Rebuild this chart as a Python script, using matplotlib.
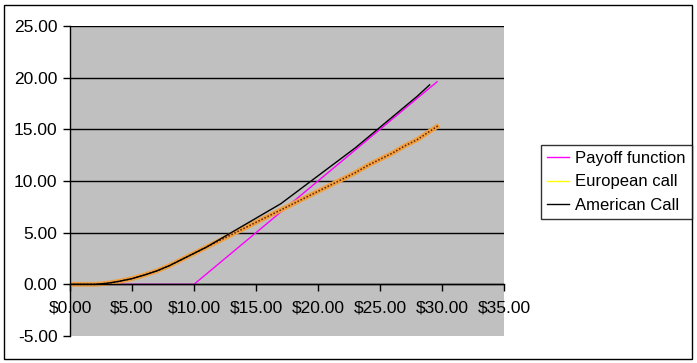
import matplotlib.pyplot as plt
from matplotlib.patches import Rectangle
from matplotlib.lines import Line2D

plt.rcParams['font.family'] = ['Liberation Sans', 'DejaVu Sans']
plt.rcParams['font.size'] = 12

# data
payoff_s = [0, 10, 29.6]
payoff_v = [0, 0, 19.6]

euro_s = [0, 1, 2, 3, 4, 5, 6, 7, 8, 9, 10, 11, 12, 13, 14, 15, 16, 17, 18, 19,
          20, 21, 22, 23, 24, 25, 26, 27, 28, 29, 29.75]
euro_v = [0.0, 0.0, 0.0, 0.1, 0.3, 0.55, 0.9, 1.3, 1.8, 2.4, 3.0, 3.6, 4.2, 4.8,
          5.4, 6.0, 6.6, 7.2, 7.8, 8.4, 9.0, 9.6, 10.2, 10.8, 11.5, 12.1, 12.7,
          13.4, 14.0, 14.8, 15.4]

amer_s = [0, 1, 2, 3, 4, 5, 6, 7, 8, 9, 10, 11, 12, 13, 14, 15, 16, 17, 18, 19,
          20, 21, 22, 23, 24, 25, 26, 27, 28, 29]
amer_v = [0.0, 0.0, 0.0, 0.1, 0.3, 0.55, 0.9, 1.3, 1.8, 2.4, 3.0, 3.6, 4.3, 5.0,
          5.7, 6.4, 7.1, 7.8, 8.7, 9.6, 10.5, 11.4, 12.3, 13.2, 14.2, 15.2, 16.2,
          17.2, 18.2, 19.3]

x_ticks = [0, 5, 10, 15, 20, 25, 30, 35]
y_ticks = [-5, 0, 5, 10, 15, 20, 25]

W, H = 697, 363
fig = plt.figure(figsize=(W / 100, H / 100), dpi=100)
ax = fig.add_axes([70 / W, (H - 336) / H, (504 - 70) / W, (336 - 26) / H])
ax.set_facecolor('#c0c0c0')

ax.plot(payoff_s, payoff_v, color='#ff00ff', lw=1)
ax.plot(euro_s, euro_v, color='#f0a040', lw=3.5, solid_capstyle='butt')
ax.plot(euro_s, euro_v, color='#5a2010', lw=1.1, ls=(0, (1, 1.2)))
ax.plot(amer_s, amer_v, color='black', lw=1)

ax.set_xlim(0, 35)
ax.set_ylim(-5, 25)
ax.set_xticks(x_ticks)
ax.set_xticklabels(['$%.2f' % v for v in x_ticks])
ax.set_yticks(y_ticks)
ax.set_yticklabels(['%.2f' % v for v in y_ticks])

for y in y_ticks[1:]:
    ax.axhline(y, color='black', lw=1, zorder=1.5)

for s in ['top', 'right']:
    ax.spines[s].set_visible(False)
ax.spines['left'].set_linewidth(1)
ax.spines['bottom'].set_position(('data', 0))
ax.spines['bottom'].set_linewidth(1)
ax.tick_params(axis='both', direction='out', length=5, width=1, colors='black',
               labelsize=12.5)
ax.tick_params(axis='y', pad=4)
ax.tick_params(axis='x', pad=6.5)

handles = [Line2D([], [], color='#ff00ff', lw=1),
           Line2D([], [], color='#ffff00', lw=1),
           Line2D([], [], color='black', lw=1)]
leg = fig.legend(handles, ['Payoff function', 'European call', 'American Call'],
                 loc='upper left', bbox_to_anchor=(541 / W, 1 - 145 / H),
                 fontsize=12, frameon=True, fancybox=False, handlelength=1.35,
                 handletextpad=0.35, borderpad=0.35, labelspacing=0.52,
                 borderaxespad=0)
leg.get_frame().set_edgecolor('black')
leg.get_frame().set_linewidth(1)

fig.patches.append(Rectangle((4 / W, 4 / H), (692 - 4) / W, (358 - 4) / H,
                             transform=fig.transFigure, fill=False,
                             edgecolor='black', lw=1))

fig.savefig('out.png', dpi=100)
